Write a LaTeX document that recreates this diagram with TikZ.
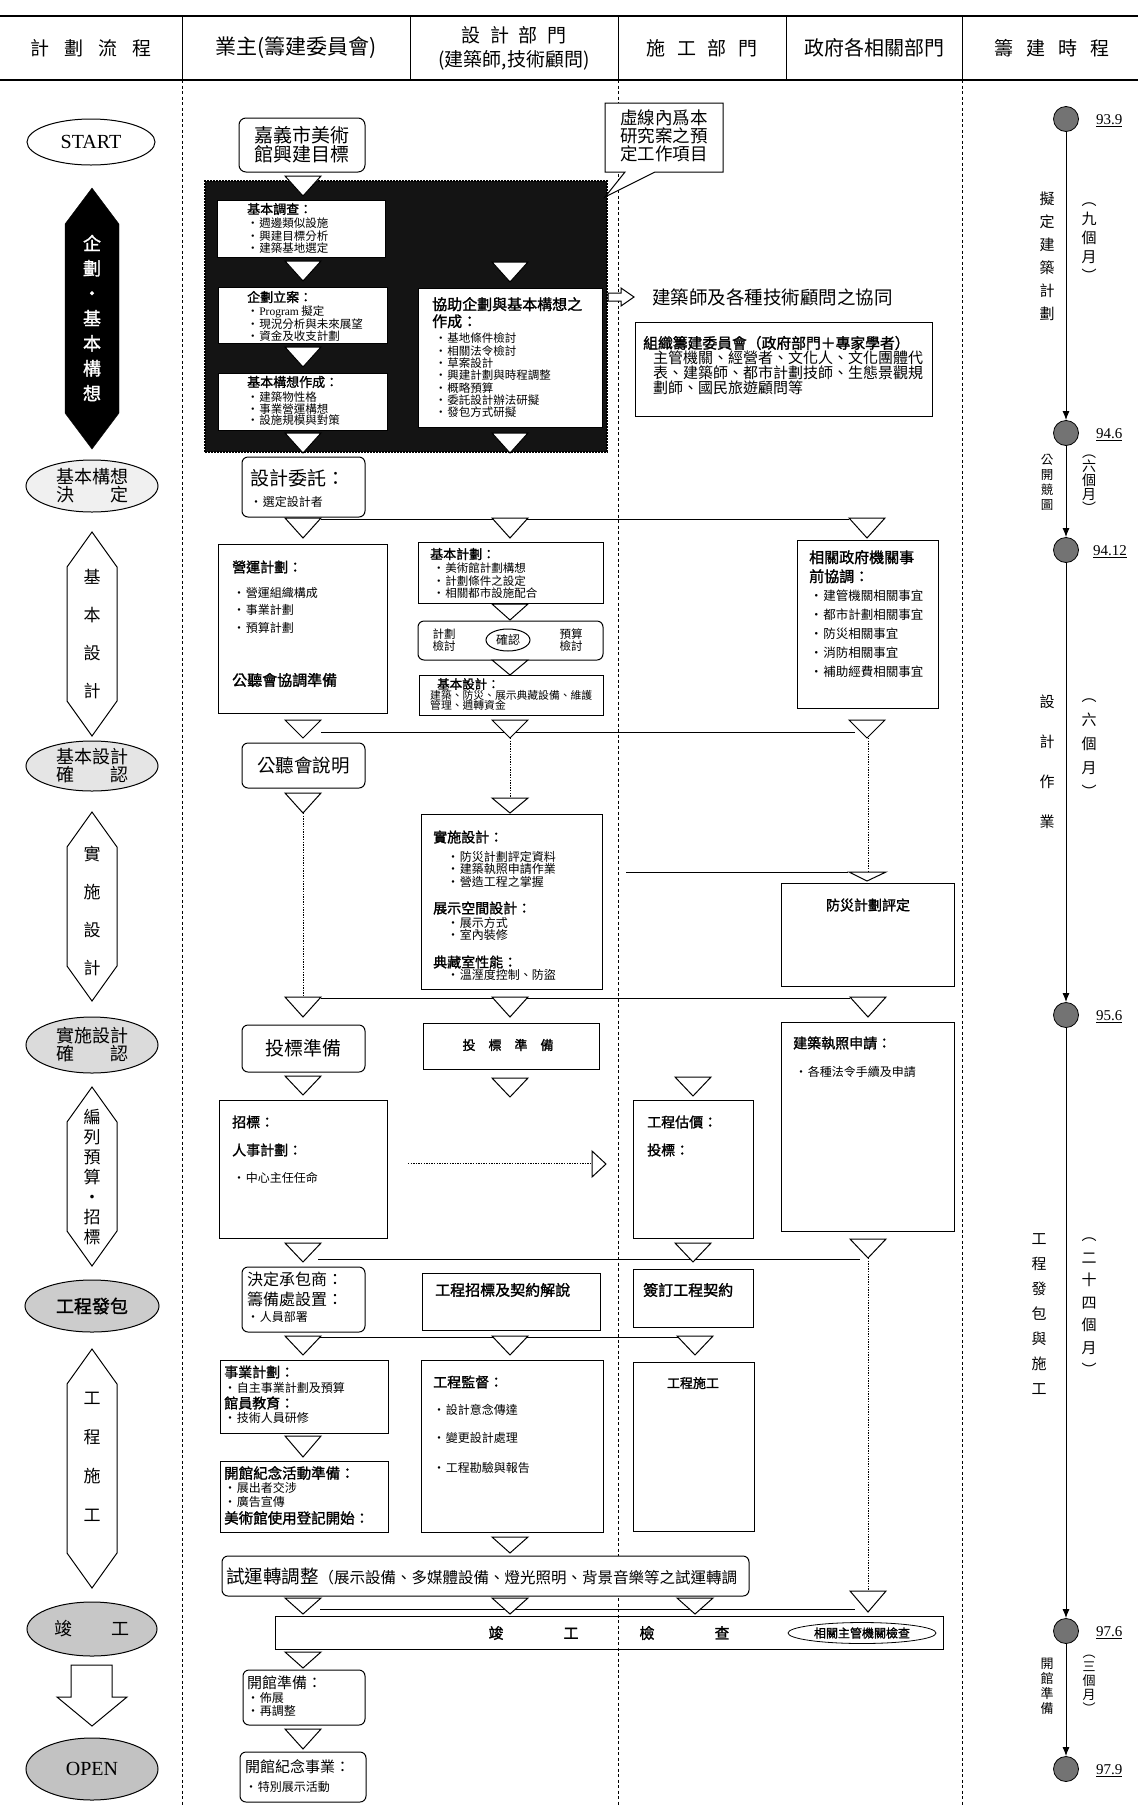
\documentclass[tikz,border=0pt]{standalone}
\usepackage{fontspec}
\setmainfont{Noto Sans CJK TC}[AutoFakeBold=1.5]
\newfontfamily\lser{Liberation Serif}
\usetikzlibrary{shapes.geometric,fit,arrows.meta}
\newcommand{\fs}[2]{\fontsize{#1}{#2}\selectfont}
\newcommand{\dtri}[2]{\draw[line width=1pt,fill=white] ({#1-18},#2) -- ({#1+18},#2) -- (#1,{#2+20}) -- cycle;}
\newcommand{\dtrih}[3]{\draw[line width=1pt,fill=white] ({#1-18},#2) -- ({#1+18},#2) -- (#1,{#2+#3}) -- cycle;}
\newcommand{\bl}{\makebox[1.05em][l]{•}}
\begin{document}
\begin{tikzpicture}[x=1pt,y=-1pt,
  bx/.style={draw,line width=1pt,fill=white,inner sep=0pt},
  rbx/.style={bx,rounded corners=6pt},
  ttl/.style={anchor=west,inner sep=0pt,font=\fs{14}{16}\bfseries},
  stl/.style={anchor=west,inner sep=0pt,font=\fs{13}{15}\bfseries},
  itm/.style={anchor=west,inner sep=0pt,font=\fs{12}{13}},
  lst/.style={anchor=north west,inner sep=0pt,align=left},
  ln/.style={line width=1pt},
  dl/.style={line width=0.8pt,dash pattern=on 1.3pt off 1.3pt},
  div/.style={line width=1pt,dash pattern=on 3pt off 2.5pt},
  el/.style={ellipse,draw,line width=1pt,inner sep=0pt},
  hexs/.style={draw,line width=1pt,fill=white},
  vt/.style={align=center,inner sep=0pt},
  dot/.style={circle,draw,line width=0.8pt,fill=black!55,minimum size=25pt,inner sep=0pt},
  tl/.style={anchor=west,inner sep=0pt,font=\lser\fs{15}{16}},
]
\useasboundingbox (0,0) rectangle (1138,1805);
\fill[white] (0,0) rectangle (1138,1805);

% ---------------- header ----------------
\draw[line width=2.2pt] (0,16) -- (1138,16);
\draw[line width=2.2pt] (0,80) -- (1138,80);
\foreach \x in {182,410,618,786,962} \draw[line width=1pt] (\x,16) -- (\x,80);
\node[font=\fs{19}{20}] (h1) at (91,48) {計\hspace{0.8em}劃\hspace{0.8em}流\hspace{0.8em}程};
\node[font=\fs{21}{22}] (h2) at (296,48) {業主(籌建委員會)};
\node[font=\fs{19}{24},align=center] (h3) at (514,48) {設\hspace{0.5em}計\hspace{0.5em}部\hspace{0.5em}門\\(建築師,技術顧問)};
\node[font=\fs{19}{20}] (h4) at (702,48) {施\hspace{0.6em}工\hspace{0.6em}部\hspace{0.6em}門};
\node[font=\fs{20}{22}] (h5) at (874,48) {政府各相關部門};
\node[font=\fs{19}{20}] (h6) at (1052,48) {籌\hspace{0.7em}建\hspace{0.7em}時\hspace{0.7em}程};

% column dividers
\foreach \x in {182,618,962} \draw[div] (\x,80) -- (\x,1805);

% ---------------- left column ----------------
\node[el,fill=white,minimum width=128,minimum height=46,font=\lser\fs{20}{20}] (start) at (91,142) {START};
\draw[fill=black] (92,188) -- (119,224) -- (119,413) -- (92,449) -- (65,413) -- (65,224) -- cycle;
\node[vt,text=white,font=\fs{18}{25}\bfseries] (kp) at (92,318) {企\\劃\\・\\基\\本\\構\\想};
\node[el,fill=black!6,minimum width=132,minimum height=52,align=center,font=\fs{18}{18}] (e1) at (92,486) {基本構想\\決\hspace{2em}定};
\draw[hexs] (92,532) -- (117,567) -- (117,701) -- (92,736) -- (67,701) -- (67,567) -- cycle;
\node[vt,font=\fs{17}{38}] (hx1) at (92,634) {基\\本\\設\\計};
\node[el,fill=black!10,minimum width=132,minimum height=50,align=center,font=\fs{18}{18}] (e2) at (92,766) {基本設計\\確\hspace{2em}認};
\draw[hexs] (92,812) -- (117,847) -- (117,966) -- (92,1001) -- (67,966) -- (67,847) -- cycle;
\node[vt,font=\fs{17}{38}] (hx2) at (92,911) {實\\施\\設\\計};
\node[el,fill=black!14,minimum width=132,minimum height=56,align=center,font=\fs{18}{18}] (e3) at (92,1045) {實施設計\\確\hspace{2em}認};
\draw[hexs] (92,1087) -- (117,1122) -- (117,1231) -- (92,1266) -- (67,1231) -- (67,1122) -- cycle;
\node[vt,font=\fs{17}{20}] (hx3) at (92,1177) {編\\列\\預\\算\\・\\招\\標};
\node[el,fill=black!20,minimum width=134,minimum height=52,font=\fs{18}{18}\bfseries] (e4) at (92,1306) {工程發包};
\draw[hexs] (92,1349) -- (117,1384) -- (117,1553) -- (92,1588) -- (67,1553) -- (67,1384) -- cycle;
\node[vt,font=\fs{17}{39}] (hx4) at (92,1457) {工\\程\\施\\工};
\node[el,fill=black!22,minimum width=130,minimum height=54,font=\fs{18}{18}] (e5) at (92,1629) {竣\hspace{2.2em}工};
\draw[line width=1pt,fill=white] (71,1665) -- (112,1665) -- (112,1697) -- (127,1697) -- (92,1726) -- (57,1697) -- (71,1697) -- cycle;
\node[el,fill=black!24,minimum width=132,minimum height=62,font=\lser\fs{20}{20}] (open) at (92,1769) {OPEN};

% ---------------- black region (study scope) ----------------
\node[draw=black,fill=black!92,line width=1.6pt,dash pattern=on 2pt off 1pt,inner sep=0pt,fit={(205,181) (607,452)}] (blk) {};
\node[rbx,rounded corners=7pt,minimum width=126,minimum height=54,align=center,font=\fs{19}{19}] (goal) at (302,145) {嘉義市美術\\館興建目標};
\dtri{303}{176}
\node[bx,fit={(217,200) (385,257)}] (b1) {};
\node[stl] (b1t) at (247,209) {基本調查：};
\node[lst,font=\fs{11.5}{12.3}] (b1l) at (247,218) {\bl 週邊類似設施\\\bl 興建目標分析\\\bl 建築基地選定};
\dtri{303}{261}
\dtri{510}{262}
\node[bx,fit={(218,287) (387,343)}] (b2) {};
\node[stl] (b2t) at (247,297) {企劃立案：};
\node[lst,font=\fs{11.5}{12.3}] (b2l) at (247,306) {\bl {\lser Program} 擬定\\\bl 現況分析與未來展望\\\bl 資金及收支計劃};
\dtrih{303}{347}{20}
\node[bx,fit={(218,373) (387,430)}] (b3) {};
\node[stl] (b3t) at (247,382) {基本構想作成：};
\node[lst,font=\fs{11.5}{11.5}] (b3l) at (247,392) {\bl 建築物性格\\\bl 事業營運構想\\\bl 設施規模與對策};
\node[bx,fit={(418,288) (602,427)}] (b4) {};
\node[lst,font=\fs{15}{17}\bfseries] (b4t) at (432,297) {協助企劃與基本構想之\\作成：};
\node[lst,font=\fs{11.5}{12.3}] (b4l) at (435,333) {\bl 基地條件檢討\\\bl 相關法令檢討\\\bl 草案設計\\\bl 興建計劃與時程調整\\\bl 概略預算\\\bl 委託設計辦法研擬\\\bl 發包方式研擬};
\dtri{303}{433}
\dtri{510}{433}

% callout
\draw[line width=1pt,fill=white] (605,103) -- (723,103) -- (723,172) -- (655,172) -- (605,197) -- (625,172) -- (605,172) -- cycle;
\node[align=center,font=\fs{17.5}{18}] (note) at (664,136) {虛線內爲本\\研究案之預\\定工作項目};

% assistance arrow + text
\draw[line width=1pt,fill=white] (608,293) -- (621,293) -- (621,288) -- (634,297) -- (621,306) -- (621,301) -- (608,301) -- cycle;
\node[anchor=west,inner sep=0pt,font=\fs{18.5}{20}] (assist) at (652,297) {建築師及各種技術顧問之協同};
\node[bx,fit={(635,322) (932,416)}] (comm) {};
\node[anchor=west,inner sep=0pt,font=\fs{14.8}{16}\bfseries] (commt) at (643,343) {組織籌建委員會（政府部門＋專家學者）};
\node[lst,font=\fs{15}{14.7}] (comml) at (653,351) {主管機關、經營者、文化人、文化團體代\\表、建築師、都市計劃技師、生態景觀規\\劃師、國民旅遊顧問等};

% ---------------- design commission ----------------
\node[rbx,fit={(242,457) (365,517)}] (dc) {};
\node[anchor=west,inner sep=0pt,font=\fs{19}{20}] (dct) at (250,478) {設計委託：};
\node[itm] (dcl) at (250,502) {\bl 選定設計者};

% row A
\draw[ln] (321,519) -- (849,519);
\dtri{303}{518}
\dtri{510}{518}
\dtri{867}{518}

\node[bx,fit={(218,544) (387,713)}] (op) {};
\node[ttl] (opt) at (232,567) {營運計劃：};
\node[lst,font=\fs{12}{17.5}] (opl) at (233,587) {\bl 營運組織構成\\\bl 事業計劃\\\bl 預算計劃};
\node[anchor=west,inner sep=0pt,font=\fs{15}{16}\bfseries] (opp) at (232,680) {公聽會協調準備};

\node[bx,fit={(418,542) (603,603)}] (bp) {};
\node[stl] (bpt) at (430,554) {基本計劃：};
\node[lst,font=\fs{11.5}{12.3}] (bpl) at (433,563) {\bl 美術館計劃構想\\\bl 計劃條件之設定\\\bl 相關都市設施配合};
\dtrih{510}{604}{16}
\node[rbx,fit={(418,621) (603,660)}] (cf) {};
\node[align=center,font=\fs{11.5}{12.5}] (cf1) at (444,640) {計劃\\檢討};
\node[el,minimum width=44,minimum height=22,font=\fs{12}{12}] (cf2) at (508,640) {確認};
\node[align=center,font=\fs{11.5}{12.5}] (cf3) at (571,640) {預算\\檢討};
\dtrih{510}{660}{15}
\node[bx,fit={(419,675) (603,715)}] (bd) {};
\node[stl,font=\fs{12.5}{14}\bfseries] (bdt) at (437,684) {基本設計：};
\node[lst,font=\fs{10.8}{10.2}] (bdl) at (430,690) {建築、防災、展示典藏設備、維護\\管理、週轉資金};

\node[bx,fit={(797,540) (938,708)}] (gv) {};
\node[lst,font=\fs{15}{19}\bfseries] (gvt) at (809,550) {相關政府機關事\\前協調：};
\node[lst,font=\fs{12.5}{18.8}] (gvl) at (810,590) {\bl 建管機關相關事宜\\\bl 都市計劃相關事宜\\\bl 防災相關事宜\\\bl 消防相關事宜\\\bl 補助經費相關事宜};

% row B
\draw[ln] (321,732) -- (855,732);
\dtrih{303}{720}{18}
\dtrih{510}{720}{18}
\dtrih{867}{720}{18}

\node[rbx,minimum width=123,minimum height=45,font=\fs{18.5}{19}] (ph) at (303.5,765.5) {公聽會說明};
\dtri{303}{793}
\draw[dl] (303,813) -- (303,997);
\draw[dl] (510,738) -- (510,798);
\dtrih{510}{798}{15}
\node[bx,fit={(421,814) (602,989)}] (dd) {};
\node[ttl] (ddt) at (433,837) {實施設計：};
\node[lst,font=\fs{12}{12.5}] (ddl) at (447,851) {\bl 防災計劃評定資料\\\bl 建築執照申請作業\\\bl 營造工程之掌握};
\node[ttl] (ddt2) at (433,908) {展示空間設計：};
\node[lst,font=\fs{12}{12}] (ddl2) at (447,917) {\bl 展示方式\\\bl 室內裝修};
\node[ttl] (ddt3) at (433,962) {典藏室性能：};
\node[lst,font=\fs{12}{12}] (ddl3) at (447,969) {\bl 溫溼度控制、防盜};

\draw[dl] (868,738) -- (868,872);
\draw[ln] (626,872) -- (848,872);
\draw[line width=1pt,fill=white] (849,872) -- (886,872) -- (867,881) -- cycle;
\node[bx,fit={(781,883) (954,986)}] (fp) {};
\node[font=\fs{14}{15}\bfseries] (fpt) at (868,905) {防災計劃評定};

% row D
\draw[ln] (321,998) -- (850,998);
\dtri{303}{997}
\dtri{510}{997}
\dtri{868}{997}

\node[rbx,minimum width=123,minimum height=47,font=\fs{19}{19}] (tp) at (303.5,1048.5) {投標準備};
\node[bx,fit={(423,1023) (599,1069)}] (tp2) {};
\node[font=\fs{13}{14}\bfseries] (tp2t) at (508,1045) {投\hspace{1em}標\hspace{1em}準\hspace{1em}備};
\node[bx,fit={(781,1022) (954,1231)}] (lic) {};
\node[ttl] (lict) at (793,1043) {建築執照申請：};
\node[itm] (licl) at (795,1072) {\bl 各種法令手續及申請};

% row E
\dtrih{303}{1076}{19}
\dtrih{510}{1078}{19}
\dtrih{693}{1077}{19}
\node[bx,fit={(219,1100) (387,1238)}] (bid) {};
\node[ttl] (bidt) at (232,1122) {招標：};
\node[ttl] (bidt2) at (232,1150) {人事計劃：};
\node[itm] (bidl) at (233,1178) {\bl 中心主任任命};
\coordinate (da1) at (408,1163);
\coordinate (da2) at (592,1163);
\draw[dl] (da1) -- (da2);
\draw[line width=1pt,fill=white] (592,1151) -- (606,1164) -- (592,1177) -- cycle;
\node[bx,fit={(633,1100) (753,1238)}] (est) {};
\node[ttl] (estt) at (647,1122) {工程估價：};
\node[ttl] (estt2) at (647,1150) {投標：};

% row F
\draw[ln] (318,1259) -- (860,1259);
\dtrih{303}{1243}{19}
\dtrih{693}{1243}{19}
\dtrih{868}{1239}{19}
\draw[dl] (868,1258) -- (868,1591);
\node[rbx,fit={(242,1267) (365,1332)}] (con) {};
\node[lst,font=\fs{16}{20}] (cont) at (247,1272) {決定承包商：\\籌備處設置：};
\node[itm] (conl) at (247,1317) {\bl 人員部署};
\node[bx,fit={(422,1273) (600,1330)}] (exp) {};
\node[anchor=west,inner sep=0pt,font=\fs{15}{16}\bfseries] (expt) at (435,1290) {工程招標及契約解說};
\node[bx,fit={(633,1269) (753,1327)}] (sign) {};
\node[anchor=west,inner sep=0pt,font=\fs{15}{16}\bfseries] (signt) at (643,1290) {簽訂工程契約};

% row G
\draw[ln] (320,1337) -- (680,1337);
\dtrih{303}{1336}{19}
\dtrih{510}{1336}{19}
\dtrih{695}{1336}{19}
\node[bx,fit={(220,1360) (388,1433)}] (biz) {};
\node[ttl] (bizt) at (224,1372) {事業計劃：};
\node[itm] (bizl) at (224,1388) {\bl 自主事業計劃及預算};
\node[ttl] (bizt2) at (224,1403) {館員教育：};
\node[itm] (bizl2) at (224,1418) {\bl 技術人員研修};
\dtrih{303}{1436}{21}
\node[bx,fit={(220,1461) (388,1532)}] (ev) {};
\node[ttl,font=\fs{14.5}{16}\bfseries] (evt) at (224,1473) {開館紀念活動準備：};
\node[itm] (evl) at (224,1488) {\bl 展出者交涉};
\node[itm] (evl2) at (224,1502) {\bl 廣告宣傳};
\node[ttl,font=\fs{14.5}{16}\bfseries] (evt2) at (224,1518) {美術館使用登記開始：};
\node[bx,fit={(421,1360) (603,1532)}] (sup) {};
\node[ttl] (supt) at (433,1382) {工程監督：};
\node[itm] (supl) at (433,1410) {\bl 設計意念傳達};
\node[itm] (supl2) at (433,1438) {\bl 變更設計處理};
\node[itm] (supl3) at (433,1468) {\bl 工程勘驗與報告};
\node[bx,fit={(633,1362) (754,1531)}] (cons) {};
\node[font=\fs{13}{14}\bfseries] (const) at (693,1383) {工程施工};
\dtrih{510}{1537}{16}
\node[rbx,fit={(222,1556) (749,1596)}] (trial) {};
\node[anchor=west,inner sep=0pt] (trialt) at (226,1576) {{\fs{18.5}{20}試運轉調整}{\fs{15.5}{17}（展示設備、多媒體設備、燈光照明、背景音樂等之試運轉調}};

% row H
\draw[ln] (320,1609) -- (855,1609);
\dtrih{303}{1598}{16}
\dtrih{510}{1598}{16}
\dtrih{695}{1598}{16}
\dtrih{868}{1591}{21}
\node[draw,line width=1pt,inner sep=0pt,fit={(275,1616) (943,1649)}] (fin) {};
\node[font=\fs{15}{16}\bfseries] (fint) at (609,1633) {竣\hspace{60pt}工\hspace{61pt}檢\hspace{60pt}查};
\node[el,line width=0.8pt,fill=white,minimum width=148,minimum height=21,font=\fs{12}{12}\bfseries] (insp) at (862,1633) {相關主管機關檢查};
\dtrih{303}{1652}{16}
\node[rbx,fit={(243,1670) (365,1725)}] (prep) {};
\node[anchor=west,inner sep=0pt,font=\fs{15}{16}] (prept) at (247,1683) {開館準備：};
\node[itm] (prepl) at (247,1698) {\bl 佈展};
\node[itm] (prepl2) at (247,1711) {\bl 再調整};
\dtri{303}{1729}
\node[rbx,fit={(240,1752) (366,1802)}] (cer) {};
\node[anchor=west,inner sep=0pt,font=\fs{15}{16}] (cert) at (245,1767) {開館紀念事業：};
\node[itm] (cerl) at (245,1787) {\bl 特別展示活動};

% ---------------- timeline ----------------
\node[dot] (t1) at (1066,119) {};
\node[dot] (t2) at (1066,433) {};
\node[dot] (t3) at (1066,550) {};
\node[dot] (t4) at (1066,1015) {};
\node[dot] (t5) at (1066,1631) {};
\node[dot] (t6) at (1066,1769) {};
\foreach \a/\b in {t1/t2,t2/t3,t3/t4,t4/t5,t5/t6}
  \draw[line width=1pt,-{Latex[length=9pt,width=7pt]}] (\a) -- (\b);
\node[tl] (l1) at (1096,121) {\underline{93.9}};
\node[tl] (l2) at (1096,435) {\underline{94.6}};
\node[tl] (l3) at (1093,552) {\underline{94.12}};
\node[tl] (l4) at (1096,1017) {\underline{95.6}};
\node[tl] (l5) at (1096,1633) {\underline{97.6}};
\node[tl] (l6) at (1096,1771) {\underline{97.9}};

\node[vt,font=\fs{15}{23}] (p1) at (1047,256) {擬\\定\\建\\築\\計\\劃};
\node[vt,font=\fs{15}{19}] (p1m) at (1089,242) {︵\\九\\個\\月\\︶};
\node[vt,font=\fs{12.5}{15}] (p2) at (1047,482) {公\\開\\競\\圖};
\node[vt,font=\fs{14}{14}] (p2m) at (1089,484) {︵\\六\\個\\月\\︶};
\node[vt,font=\fs{15}{40}] (p3) at (1047,762) {設\\計\\作\\業};
\node[vt,font=\fs{15}{24}] (p3m) at (1089,748) {︵\\六\\個\\月\\︶};
\node[vt,font=\fs{15}{25}] (p4) at (1039,1314) {工\\程\\發\\包\\與\\施\\工};
\node[vt,font=\fs{15}{22.5}] (p4m) at (1089,1307) {︵\\二\\十\\四\\個\\月\\︶};
\node[vt,font=\fs{13}{15}] (p5) at (1047,1686) {開\\館\\準\\備};
\node[vt,font=\fs{13}{14}] (p5m) at (1089,1684) {︵\\三\\個\\月\\︶};
\end{tikzpicture}
\end{document}
